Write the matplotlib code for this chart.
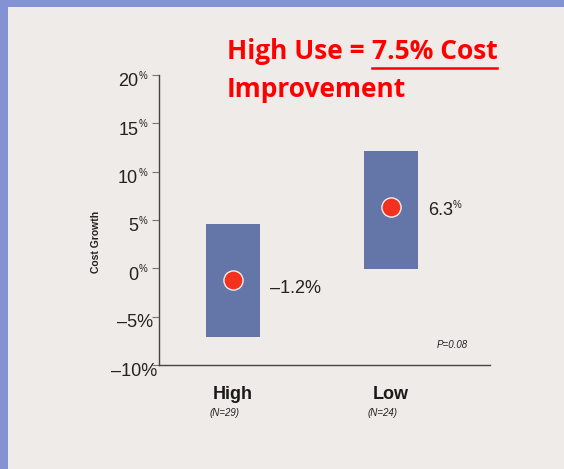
import matplotlib
matplotlib.use("Agg")
import matplotlib.pyplot as plt
from matplotlib.transforms import blended_transform_factory

# data
groups = ["High", "Low"]
group_n = ["(N=29)", "(N=24)"]
range_low = [-7.1, -0.1]
range_high = [4.6, 12.1]
means = [-1.2, 6.3]
mean_labels = ["\u20131.2%", "6.3"]
yticks = [-10, -5, 0, 5, 10, 15, 20]
p_value = "P=0.08"

W, H = 564, 469
bg = "#eeebe8"
border = "#8292d2"
bar_col = "#6476a8"
dot_col = "#f2321e"

plt.rcParams["font.family"] = ["Liberation Sans", "DejaVu Sans"]

fig = plt.figure(figsize=(W / 100, H / 100), dpi=100)
fig.patch.set_facecolor(border)
# light panel inside the blue frame
fig.add_artist(plt.Rectangle((8 / W, 0), 1, 1 - 7.5 / H, transform=fig.transFigure,
                             facecolor=bg, edgecolor="none", zorder=0))

ax = fig.add_axes([159 / W, (H - 365) / H, (490 - 159) / W, (365 - 75) / H])
ax.set_facecolor("none")
x = [1, 2]
ax.bar(x, [h - l for h, l in zip(range_high, range_low)], bottom=range_low,
       width=0.342, color=bar_col, zorder=2)
ax.scatter(x, means, s=190, color=dot_col, edgecolor="#f4eeee", linewidth=1.0, zorder=3)

ax.set_xlim(0.532, 2.627)
ax.set_ylim(-10, 20)
for s in ["top", "right"]:
    ax.spines[s].set_visible(False)
for s in ["left", "bottom"]:
    ax.spines[s].set_color("#444444")
    ax.spines[s].set_linewidth(1.0)
ax.set_xticks([])
ax.set_yticks(yticks)
ax.tick_params(axis="y", length=5, color="#777777", labelleft=False)

# tick labels: small superscript % for the non-negative ones
tr = blended_transform_factory(ax.transAxes, ax.transData)
for v in yticks:
    if v < 0:
        yy = v - 0.7 if v == -10 else v - 0.6
        xx = -0.006 if v == -10 else -0.018
        ax.text(xx, yy, "\u2013%d%%" % abs(v), transform=tr, ha="right", va="center",
                fontsize=13, color="#222222", clip_on=False)
    else:
        ax.text(-0.063, v - 0.7, "%d" % v, transform=tr, ha="right", va="center",
                fontsize=13, color="#222222", clip_on=False)
        ax.text(-0.063, v - 0.1, "%", transform=tr, ha="left", va="center",
                fontsize=7, color="#222222", clip_on=False)

ax.text(-0.19, 2.7, "Cost Growth", transform=tr, rotation=90,
        ha="center", va="center", fontsize=7.5, fontweight="bold", color="#222222")

# mean value labels
ax.text(1.234, means[0] - 0.87, mean_labels[0], ha="left", va="center",
        fontsize=13, color="#222222")
ax.text(2.234, means[1] - 0.3, mean_labels[1], ha="left", va="center",
        fontsize=13, color="#222222")
ax.text(2.39, means[1] + 0.3, "%", ha="left", va="center", fontsize=7, color="#222222")

ax.text(2.39, -7.96, p_value, ha="center", va="center", fontsize=7, style="italic",
        color="#222222")

# category labels
for xi, g, n in zip(x, groups, group_n):
    ax.text(xi, -13.0, g, ha="center", va="center", fontsize=13, fontweight="bold",
            color="#1a1a1a", clip_on=False)
    ax.text(xi - 0.055, -15.0, n, ha="center", va="center", fontsize=7, style="italic",
            color="#222222", clip_on=False)

# red headline
title_font = ["Open Sans", "DejaVu Sans"]
t1 = fig.text(227 / W, 1 - 59 / H, "High Use = ", fontsize=19, fontweight="bold",
              color="#ff0000", family=title_font, va="baseline", ha="left")
fig.canvas.draw()
bb = t1.get_window_extent()
t2 = fig.text(bb.x1 / W, 1 - 59 / H, "7.5% Cost", fontsize=19, fontweight="bold",
              color="#ff0000", family=title_font, va="baseline", ha="left")
bb2 = t2.get_window_extent(fig.canvas.get_renderer())
fig.add_artist(plt.Line2D([bb2.x0 / W, bb2.x1 / W], [1 - 68 / H, 1 - 68 / H],
                          transform=fig.transFigure, color="#ff0000", linewidth=1.8))
fig.text(227 / W, 1 - 97 / H, "Improvement", fontsize=19, fontweight="bold",
         color="#ff0000", family=title_font, va="baseline", ha="left")

fig.savefig("out.png", dpi=100, facecolor=fig.get_facecolor())
